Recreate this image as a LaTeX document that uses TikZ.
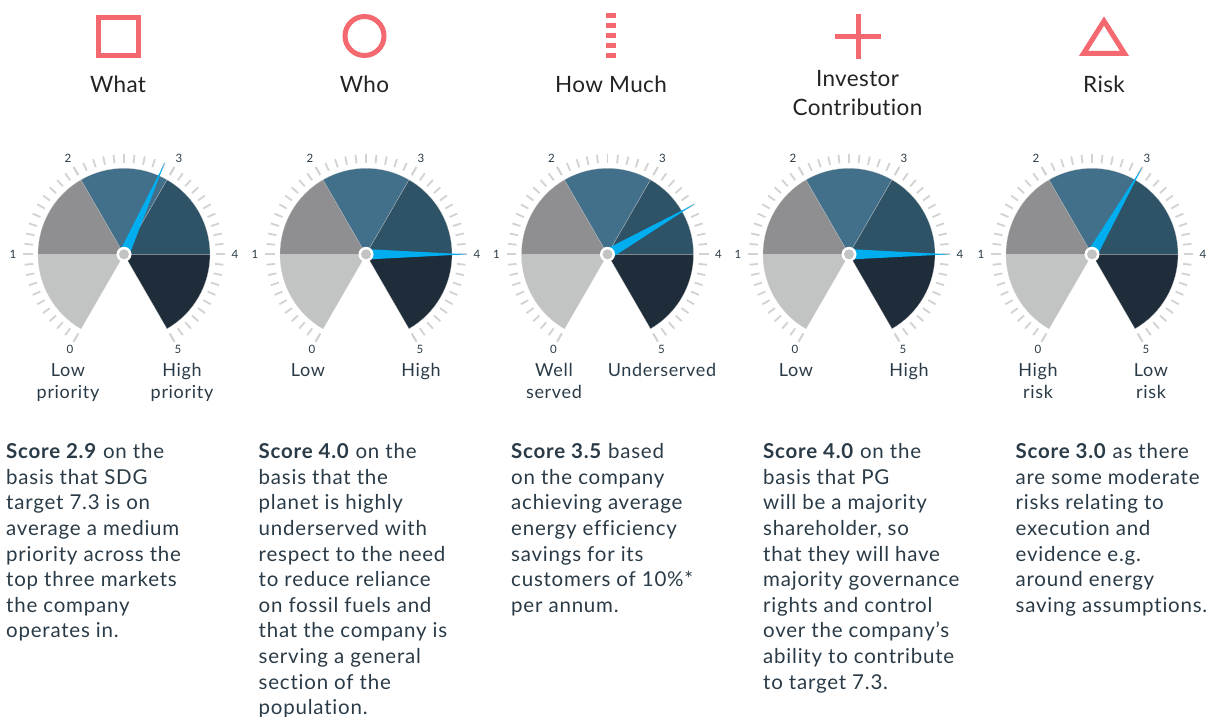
\documentclass[tikz,border=0pt]{standalone}
\usepackage{fontspec}
\setmainfont{Lato}
\newfontfamily\spaced[LetterSpace=3.8,RawFeature={-liga}]{Lato}
\newfontfamily\spacedh[LetterSpace=1.7,RawFeature={-liga}]{Lato}
\definecolor{coral}{HTML}{F4686F}
\definecolor{wa}{HTML}{C2C4C3}
\definecolor{wb}{HTML}{8F8F91}
\definecolor{wc}{HTML}{426F89}
\definecolor{wd}{HTML}{2E5367}
\definecolor{we}{HTML}{1F2D3A}
\definecolor{tickc}{HTML}{D2D2D2}
\definecolor{needle}{HTML}{00AEEF}
\definecolor{bodyc}{HTML}{2A3B47}
\definecolor{headc}{HTML}{232323}
\tikzset{
  headtext/.style={font=\spacedh\fontsize{22.5}{29}\selectfont,text=headc,inner sep=0pt,anchor=base},
  scalelabel/.style={font=\fontsize{11.5}{13}\selectfont,text=bodyc,inner sep=0pt},
  endlabel/.style={font=\spaced\fontsize{18}{22.5}\selectfont,text=bodyc,inner sep=0pt,anchor=base},
  bodytext/.style={font=\spaced\fontsize{20.5}{25.6}\selectfont,text=bodyc,inner sep=0pt,anchor=base west},
  icon/.style={draw=coral,line width=5pt},
  wedge/.style={draw=white!60!gray,line width=0.2pt},
}
\newcommand{\lft}[1]{\begin{tabular}[t]{@{}l@{}}#1\end{tabular}}
\newcommand{\ctr}[1]{\begin{tabular}[t]{@{}c@{}}#1\end{tabular}}
\begin{document}
\begin{tikzpicture}[x=1pt,y=-1pt]
\useasboundingbox (0,0) rectangle (1210,717);
\def\wedges#1#2{%
  \begin{scope}[shift={(#1,254.3)},y=1pt]
    \foreach \a in {-60,-54,...,240}
      \draw[tickc,line width=1.8pt] (\a:91.5) -- (\a:100);
    \foreach \a in {-60,0,60,120,180,240}
      \draw[tickc,line width=1.8pt] (\a:91.5) -- (\a:101);
    \fill[wa,wedge] (0,0) -- (180:86) arc[start angle=180,end angle=240,radius=86] -- cycle;
    \fill[wb,wedge] (0,0) -- (120:86) arc[start angle=120,end angle=180,radius=86] -- cycle;
    \fill[wc,wedge] (0,0) -- (60:86) arc[start angle=60,end angle=120,radius=86] -- cycle;
    \fill[wd,wedge] (0,0) -- (0:86) arc[start angle=0,end angle=60,radius=86] -- cycle;
    \fill[we,wedge] (0,0) -- (-60:86) arc[start angle=-60,end angle=0,radius=86] -- cycle;
    \fill[needle] (#2+90:5.2) -- (#2:101) -- (#2-90:5.2) -- cycle;
    \fill[white] (0,0) circle[radius=7.5];
    \fill[wa] (0,0) circle[radius=5];
  \end{scope}}
\foreach \cx/\v in {124/66,366/0,607.5/30,849/0,1092/60}{\wedges{\cx}{\v}}
% scale numbers
\foreach \cx/\k in {124/a,366/b,607.5/c,849/d,1092/e}{
  \node[scalelabel] (n0\k) at (\cx-54,349) {0};
  \node[scalelabel] (n1\k) at (\cx-111,254.3) {1};
  \node[scalelabel] (n2\k) at (\cx-56,158) {2};
  \node[scalelabel] (n3\k) at (\cx+55,158) {3};
  \node[scalelabel] (n4\k) at (\cx+111,254.3) {4};
  \node[scalelabel] (n5\k) at (\cx+54,349) {5};
}
% icons
\draw[icon] (98.5,18) rectangle (138.5,56);
\node[draw=coral,line width=5pt,circle,minimum size=39pt,inner sep=0pt] (iconb) at (364.5,36) {};
\foreach \y in {15.5,25.5,36,46,56} {\fill[coral] (606,\y-2.5) rectangle (616,\y+2.5);}
\draw[icon] (858,14) -- (858,59);
\draw[icon] (835,36.5) -- (881,36.5);
\draw[icon,miter limit=10] (1104,21) -- (1124.5,53.5) -- (1083.5,53.5) -- cycle;
% headings
\node[headtext] (ha) at (118,92.7) {What};
\node[headtext] (hb) at (364.5,92.7) {Who};
\node[headtext] (hc) at (611,92.7) {How Much};
\node[headtext] (hd) at (857.5,86) {\ctr{Investor\\Contribution}};
\node[headtext] (he) at (1104,92.7) {Risk};
% end labels
\node[endlabel] (la) at (68,376) {\ctr{Low\\priority}};
\node[endlabel] (ra) at (182,376) {\ctr{High\\priority}};
\node[endlabel] (lb) at (308,376) {Low};
\node[endlabel] (rb) at (421,376) {High};
\node[endlabel] (lc) at (554,376) {\ctr{Well\\served}};
\node[endlabel] (rc) at (662,376) {Underserved};
\node[endlabel] (ld) at (796,376) {Low};
\node[endlabel] (rd) at (909,376) {High};
\node[endlabel] (le) at (1038,376) {\ctr{High\\risk}};
\node[endlabel] (re) at (1151,376) {\ctr{Low\\risk}};
% body
\node[bodytext] (ba) at (6,458.6) {\lft{\textbf{Score 2.9} on the\\basis that SDG\\target 7.3 is on\\average a medium\\priority across the\\top three markets\\the company\\operates in.}};
\node[bodytext] (bb) at (258.5,458.6) {\lft{\textbf{Score 4.0} on the\\basis that the\\planet is highly\\underserved with\\respect to the need\\to reduce reliance\\on fossil fuels and\\that the company is\\serving a general\\section of the\\population.}};
\node[bodytext] (bc) at (511,458.6) {\lft{\textbf{Score 3.5} based\\on the company\\achieving average\\energy efficiency\\savings for its\\customers of 10\%*\\per annum.}};
\node[bodytext] (bd) at (763,458.6) {\lft{\textbf{Score 4.0} on the\\basis that PG\\will be a majority\\shareholder, so\\that they will have\\majority governance\\rights and control\\over the company’s\\ability to contribute\\to target 7.3.}};
\node[bodytext] (be) at (1015.5,458.6) {\lft{\textbf{Score 3.0} as there\\are some moderate\\risks relating to\\execution and\\evidence e.g.\\around energy\\saving assumptions.}};
\end{tikzpicture}
\end{document}
